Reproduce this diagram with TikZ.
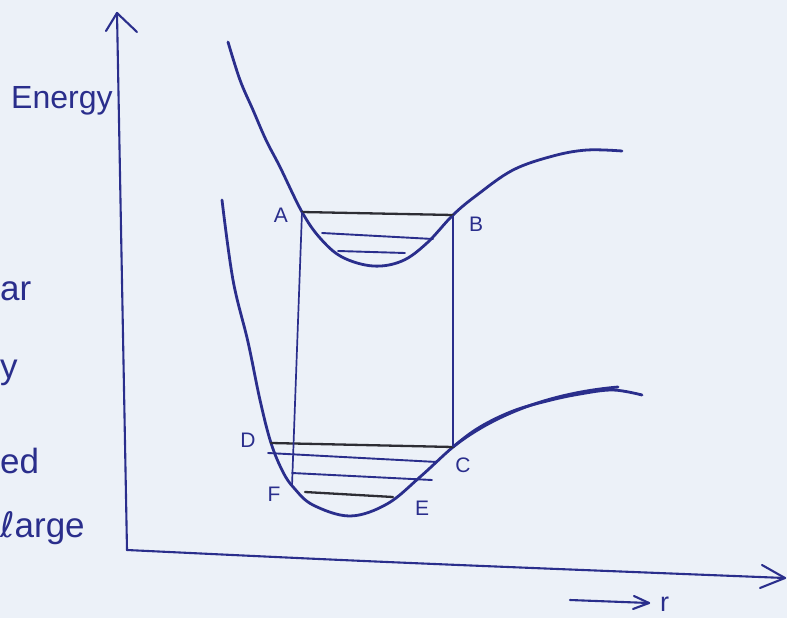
\documentclass[tikz,border=0pt]{standalone}
\usepackage{fontspec}
\setmainfont{Liberation Sans}
\newfontfamily\dejavu{DejaVu Sans}
\definecolor{ink}{RGB}{42,46,140}
\definecolor{pencil}{RGB}{45,45,52}
\definecolor{paper}{RGB}{236,241,248}
\tikzset{
  curve/.style={ink, line width=2.8pt, line cap=round, line join=round},
  axis/.style={ink, line width=2.1pt, line cap=round, line join=round},
  darklevel/.style={pencil, line width=2.3pt, line cap=round},
  bluelevel/.style={ink, line width=1.9pt, line cap=round},
  drop/.style={ink, line width=1.7pt},
  lbl/.style={ink, inner sep=0pt, font=\fontsize{21}{21}\selectfont},
  frag/.style={ink, inner sep=0pt, anchor=base west, font=\fontsize{35}{35}\selectfont}
}
\begin{document}
\begin{tikzpicture}[x=1pt,y=-1pt]
\useasboundingbox (0,0) rectangle (787,618);
\fill[paper] (0,0) rectangle (787,618);
\clip (0,0) rectangle (787,618);

% axes
\coordinate (ytop) at (117,13);
\coordinate (origin) at (127,550);
\coordinate (xend) at (785,578);
\draw[axis] (origin) -- (ytop);
\draw[axis] (106,31) -- (ytop) -- (137,32);
\draw[axis] (origin) .. controls (380,562) .. (xend);
\draw[axis] (762,565) -- (xend) -- (760,588);

\node[ink, inner sep=0pt, anchor=base west, font=\fontsize{32}{32}\selectfont] (energy) at (11,108) {Energy};

% r arrow
\coordinate (ra) at (570,600);
\coordinate (rb) at (649,603);
\draw[axis] (ra) -- (rb);
\draw[axis] (634,596) -- (rb) -- (633,609);
\node[ink, inner sep=0pt, font=\fontsize{27}{27}\selectfont, anchor=base west] (rlab) at (660,611) {r};

% named points
\coordinate (A) at (302,212);
\coordinate (B) at (453,215);
\coordinate (C) at (453,447);
\coordinate (D) at (271,443);
\coordinate (F) at (292,486);

% upper potential curve
\draw[curve] plot[smooth, tension=0.6] coordinates {
 (228,42) (240,80) (253,110) (266,140) (280,167) (302,212) (320,238)
 (342,257) (373,266) (402,261) (427,243) (453,215) (477,195) (513,170)
 (553,156) (587,150) (622,151)};

% lower potential curve
\draw[curve] plot[smooth, tension=0.6] coordinates {
 (222,200) (233,280) (248,342) (260,400) (271,443) (283,472) (294,488)
 (313,505) (350,516) (387,504) (420,477) (453,447) (480,427) (513,411)
 (547,401) (580,394) (613,390) (642,395)};
\draw[curve] (453,447) .. controls (500,410) and (560,392) .. (618,387);

% upper well levels
\draw[darklevel] (A) -- (B);
\draw[bluelevel] (322,233) -- (433,239);
\draw[bluelevel] (338,251) -- (405,253);

% lower well levels
\draw[darklevel] (D) -- (C);
\draw[bluelevel] (268,453) -- (437,462);
\draw[bluelevel] (292,473) -- (432,480);
\draw[darklevel] (305,492) -- (393,497);

% vertical transitions
\draw[drop] (A) -- (F);
\draw[drop] (B) -- (C);

% labels
\node[lbl] (lA) at (281,215) {A};
\node[lbl] (lB) at (476,224) {B};
\node[lbl] (lD) at (248,440) {D};
\node[lbl] (lC) at (463,465) {C};
\node[lbl] (lF) at (274,494) {F};
\node[lbl] (lE) at (422,508) {E};

% fragments of the page text at the left edge
\node[frag] (f1) at (0,300) {ar};
\node[frag] (f2) at (0,378) {y};
\node[frag] (f3) at (0,473) {ed};
\node[frag] (f4) at (0,537) {{\dejavu ℓ}arge};
\end{tikzpicture}
\end{document}
